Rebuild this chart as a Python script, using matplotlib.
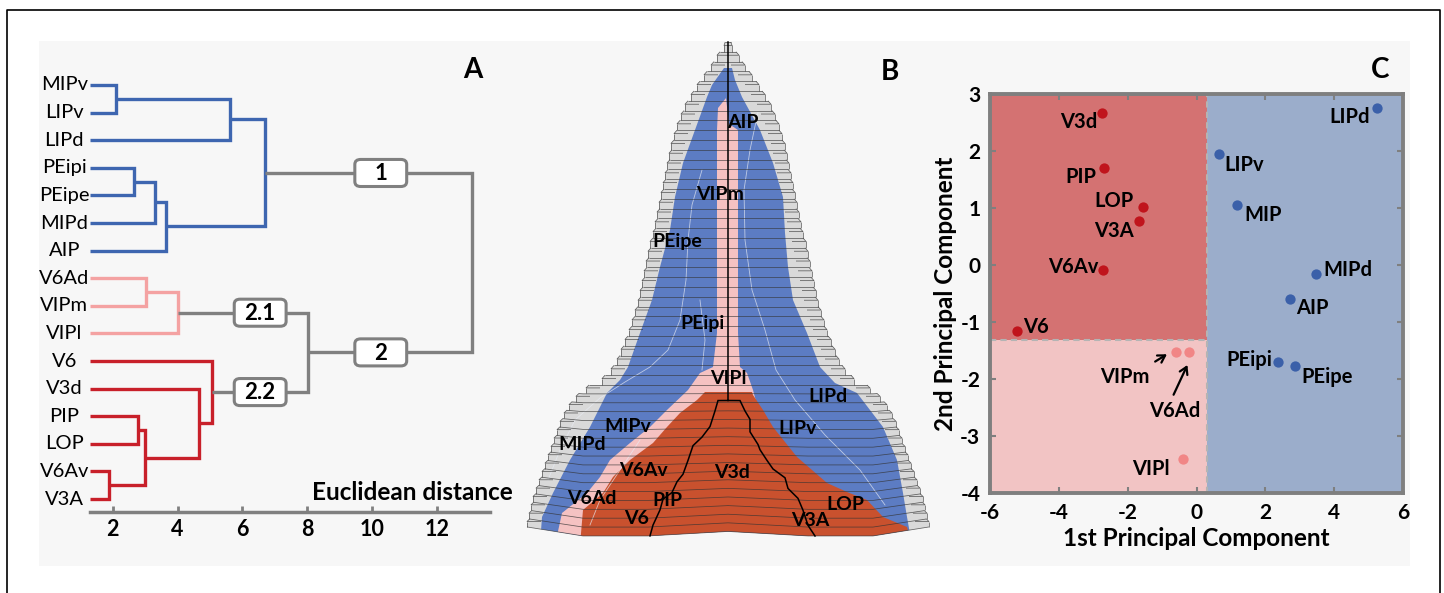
import numpy as np
import matplotlib
matplotlib.use('Agg')
import matplotlib.pyplot as plt
from matplotlib.patches import Rectangle, FancyBboxPatch, Polygon
from matplotlib.collections import LineCollection

plt.rcParams['font.family'] = ['Lato', 'DejaVu Sans']

# ---------------- Panel A : dendrogram ----------------
LEAVES = ['MIPv', 'LIPv', 'LIPd', 'PEipi', 'PEipe', 'MIPd', 'AIP',
          'V6Ad', 'VIPm', 'VIPl', 'V6', 'V3d', 'PIP', 'LOP', 'V6Av', 'V3A']
LEAF_X = 1.3
# (child a, child b, height, colour key) ; new node ids start at 16
MERGES = [(0, 1, 2.09, 'blue'), (16, 2, 5.61, 'blue'), (3, 4, 2.65, 'blue'),
          (18, 5, 3.30, 'blue'), (19, 6, 3.64, 'blue'), (17, 20, 6.69, 'blue'),
          (7, 8, 3.04, 'pink'), (22, 9, 4.00, 'pink'),
          (14, 15, 1.88, 'red'), (12, 13, 2.78, 'red'), (25, 24, 3.01, 'red'),
          (11, 26, 4.65, 'red'), (10, 27, 5.06, 'red'),
          (23, 28, 8.04, 'gray'), (21, 29, 13.08, 'gray')]
# (text, x position, node whose outgoing link carries the box)
BOXES = [('1', 10.27, 21), ('2', 10.27, 29), ('2.1', 6.55, 23), ('2.2', 6.55, 28)]
A_TICKS = [2, 4, 6, 8, 10, 12]
A_COLORS = {'blue': '#3e66b0', 'pink': '#f4a2a2', 'red': '#c8202a', 'gray': '#808080'}

# ---------------- Panel C : PCA scatter ----------------
PC_NAMES = ['V3d', 'PIP', 'LOP', 'V3A', 'V6Av', 'V6', 'VIPm', 'V6Ad', 'VIPl',
            'LIPd', 'LIPv', 'MIP', 'MIPd', 'AIP', 'PEipi', 'PEipe']
PC1 = [-2.75, -2.69, -1.54, -1.66, -2.71, -5.21, -0.59, -0.23, -0.40,
       5.24, 0.66, 1.19, 3.47, 2.72, 2.38, 2.86]
PC2 = [2.67, 1.70, 1.02, 0.77, -0.08, -1.15, -1.53, -1.53, -3.40,
       2.76, 1.94, 1.05, -0.16, -0.59, -1.71, -1.78]
PC_GROUP = ['red'] * 6 + ['pink'] * 3 + ['blue'] * 7
PC_LABEL_X = [-3.43, -3.35, -2.39, -2.39, -3.58, -4.66, -2.08, -0.64, -1.33,
              4.45, 1.39, 1.95, 4.39, 3.37, 1.53, 3.79]
PC_LABEL_Y = [2.50, 1.54, 1.13, 0.60, -0.03, -1.08, -1.97, -2.57, -3.58,
              2.59, 1.76, 0.88, -0.09, -0.75, -1.67, -1.97]
PC_SPLIT_X = 0.3
PC_SPLIT_Y = -1.32
C_XTICKS = [-6, -4, -2, 0, 2, 4, 6]
C_YTICKS = [-4, -3, -2, -1, 0, 1, 2, 3]
DOT_COLORS = {'red': '#c0141c', 'pink': '#f18686', 'blue': '#3b60a9'}

# ---------------- Panel B : flattened map (pixel-space schematic) ----------------
B_CX = 728
B_TOP = 42
B_UP_H = 9.8
B_LOW_H = 8.35
B_HW_UP = [4, 11, 17, 24, 31, 37, 43, 47, 51, 54, 57, 59, 61, 63, 65, 67, 69, 71,
           73, 75, 78, 80, 82, 84, 86, 88, 90, 93, 96, 99, 103, 107, 111, 117, 126]
B_HW_LOW = [142, 152, 159, 164, 168, 171, 174, 177, 180, 183, 186, 189, 192, 195,
            197, 199, 201]
B_BEND_START = 385      # rows below this are bent (perspective of the lower map)
B_BEND_AMP = 9          # max bend at the base, px
B_BEND_KNEE = (80, 145)  # |dx| range of maximal bend
B_BLUE = [(724, 68), (712, 85), (707, 97), (695, 130), (683, 163), (675, 197),
          (670, 230), (660, 267), (652, 300), (640, 333), (628, 367), (620, 380),
          (607, 393), (590, 427), (570, 460), (553, 493), (542, 517), (540, 545),
          (912, 545), (907, 517), (903, 493), (897, 460), (883, 427), (857, 393),
          (835, 383), (820, 367), (807, 333), (793, 300), (788, 267), (785, 233),
          (783, 197), (773, 163), (760, 130), (742, 97), (735, 80), (732, 68)]
B_PINK = [(726, 98), (718, 108), (717, 130), (717, 333), (713, 367), (700, 373),
          (688, 390), (667, 410), (650, 427), (630, 443), (610, 460), (600, 477),
          (587, 493), (562, 513), (555, 545), (700, 545), (740, 420), (757, 405),
          (753, 390), (747, 373), (740, 367), (738, 333), (738, 130), (729, 124)]
B_RED = [(705, 392), (752, 392), (753, 395), (763, 410), (773, 427), (785, 442),
         (797, 457), (812, 470), (827, 483), (847, 492), (867, 500), (883, 517),
         (907, 527), (912, 545), (580, 545), (583, 510), (603, 493), (613, 477),
         (630, 460), (653, 443), (667, 427), (680, 413), (697, 400)]
B_BLACK_LEFT = [(728, 400), (718, 400), (715, 410), (710, 425), (702, 435), (693, 443),
                (688, 457), (683, 470), (677, 477), (672, 487), (663, 493),
                (660, 503), (653, 517), (650, 527)]
B_BLACK_RIGHT = [(728, 400), (740, 400), (745, 410), (750, 418), (750, 430), (758, 442),
                 (760, 447), (767, 457), (773, 465), (785, 473), (788, 483),
                 (798, 492), (803, 503), (808, 517), (815, 527)]
B_THIN = [[(702, 170), (692, 205), (688, 240), (686, 280), (680, 320), (668, 350),
           (650, 367), (625, 382), (600, 398), (575, 420), (560, 450), (548, 480)],
          [(758, 112), (750, 150), (744, 190), (745, 240), (752, 290), (765, 330),
           (776, 370), (795, 400), (825, 435), (860, 470), (885, 505)],
          [(640, 440), (620, 470), (600, 500), (590, 525)],
          [(700, 300), (705, 340), (702, 370)]]
B_LABELS = [('AIP', 743, 122), ('VIPm', 720, 194), ('PEipe', 677, 242),
            ('PEipi', 702, 323), ('VIPl', 728, 379), ('LIPd', 828, 397),
            ('LIPv', 798, 428), ('MIPv', 628, 427), ('MIPd', 582, 444),
            ('V6Av', 643, 470), ('V3d', 732, 473), ('V6Ad', 592, 498),
            ('PIP', 667, 500), ('LOP', 845, 504), ('V6', 637, 519), ('V3A', 810, 521)]
B_COLORS = {'gray': '#d9d9d9', 'blue': '#5c7cc3', 'pink': '#f5c2c2', 'red': '#c9512e'}

W, H = 1444, 593
fig = plt.figure(figsize=(W / 100, H / 100), dpi=100)
fig.patch.set_facecolor('white')

# background canvas axes (pixel coordinates)
bg = fig.add_axes([0, 0, 1, 1])
bg.set_xlim(0, W)
bg.set_ylim(H, 0)
bg.axis('off')
bg.plot([7, 7, 1440, 1440], [H, 10, 10, H], color='black', lw=1.2, zorder=1)
bg.add_patch(Rectangle((39, 41), 1371, 525, facecolor='#f7f7f7', edgecolor='none', zorder=0))

# ---------------- Panel B drawing ----------------
rows = []
y = B_TOP
for hw in B_HW_UP:
    rows.append((y, y + B_UP_H, hw))
    y += B_UP_H
for hw in B_HW_LOW:
    rows.append((y, y + B_LOW_H, hw))
    y += B_LOW_H
B_BOTTOM = y


def bend(x, yv, hw):
    """vertical displacement giving the lower rows their bent perspective"""
    if yv <= B_BEND_START:
        return 0.0
    a = B_BEND_AMP * (yv - B_BEND_START) / (B_BOTTOM - B_BEND_START)
    dx = abs(x - B_CX)
    k0, k1 = B_BEND_KNEE
    if dx < k0:
        f = 0.5 + 0.5 * dx / k0
    elif dx <= k1:
        f = 1.0
    else:
        f = max(0.0, (hw - dx) / max(hw - k1, 1e-6))
    return a * f


def bent_line(x0, x1, yv, hw):
    k0, k1 = B_BEND_KNEE
    xs = [x0, x1] + [B_CX + s * k for s in (-1, 1) for k in (k0, k1)] + [B_CX]
    xs = sorted(x for x in set(xs) if min(x0, x1) <= x <= max(x0, x1))
    return [(x, yv + bend(x, yv, hw)) for x in xs]


left_pts, right_pts = [], []
for yt, yb, hw in rows:
    t = 0.35 * (yb - yt)
    bev = min(3.0, hw * 0.3)
    left_pts += [(B_CX - hw + bev, yt), (B_CX - hw, yt + t), (B_CX - hw, yb)]
    right_pts += [(B_CX + hw - bev, yt), (B_CX + hw, yt + t), (B_CX + hw, yb)]
last_hw = rows[-1][2]
bottom = bent_line(B_CX - last_hw, B_CX + last_hw, B_BOTTOM, last_hw)
sil = left_pts + bottom[1:-1] + right_pts[::-1]
sil_patch = Polygon(sil, closed=True, facecolor=B_COLORS['gray'], edgecolor='none', zorder=2)
bg.add_patch(sil_patch)

for poly, key in [(B_BLUE, 'blue'), (B_PINK, 'pink'), (B_RED, 'red')]:
    p = Polygon(poly, closed=True, facecolor=B_COLORS[key], edgecolor='none', zorder=3)
    bg.add_patch(p)
    p.set_clip_path(sil_patch)

for line in B_THIN:
    xs, ys = zip(*line)
    ln, = bg.plot(xs, ys, color='#e8ecf4', lw=0.6, alpha=0.7, zorder=4)
    ln.set_clip_path(sil_patch)

segs = []
for yt, yb, hw in rows:
    t = 0.35 * (yb - yt)
    bev = min(3.0, hw * 0.3)
    xl, xr = B_CX - hw, B_CX + hw
    end = min(14, hw)
    segs.append(bent_line(xl + bev, xr - bev, yt, hw))
    segs.append([(xl + end, yt + t), (xl, yt + t), (xl + bev, yt)])
    segs.append([(xr - end, yt + t), (xr, yt + t), (xr - bev, yt)])
    segs.append([(xl, yt + t), (xl, yb)])
    segs.append([(xr, yt + t), (xr, yb)])
segs.append(bottom)
bg.add_collection(LineCollection(segs, colors='#333333', linewidths=0.55, alpha=0.75, zorder=5))

bg.plot([B_CX, B_CX], [B_TOP, 400], color='black', lw=1.1, zorder=6)
for line in (B_BLACK_LEFT, B_BLACK_RIGHT):
    xs = [p[0] for p in line]
    ys = [p[1] + bend(p[0], p[1], 200) for p in line]
    bg.plot(xs, ys, color='black', lw=1.1, zorder=6, solid_joinstyle='miter')

for txt, x, yv in B_LABELS:
    bg.text(x, yv, txt, ha='center', va='center', fontsize=14, fontweight='bold',
            color='black', zorder=7)

# panel letters
for letter, x, yv in [('A', 473, 70), ('B', 890, 72), ('C', 1380, 70)]:
    bg.text(x, yv, letter, ha='center', va='center', fontsize=20, fontweight='bold', zorder=7)

# ---------------- Panel A drawing ----------------
axA = fig.add_axes([90 / W, (H - 512) / H, 400 / W, 472 / H])
axA.set_xlim(LEAF_X, 13.64)
axA.set_ylim(15.47, -1.63)
axA.patch.set_alpha(0)
for s in ['top', 'left', 'right']:
    axA.spines[s].set_visible(False)
axA.spines['bottom'].set_color('#808080')
axA.spines['bottom'].set_linewidth(2.5)
axA.set_yticks([])
axA.set_xticks(A_TICKS)
axA.set_xticklabels([str(t) for t in A_TICKS], fontsize=15.5, fontweight='bold')
axA.tick_params(axis='x', direction='in', length=4, width=2, color='#808080', pad=5)

node_x = {i: LEAF_X for i in range(len(LEAVES))}
node_y = {i: float(i) for i in range(len(LEAVES))}
for k, (a, b, h, col) in enumerate(MERGES):
    nid = len(LEAVES) + k
    xs = [node_x[a], h, h, node_x[b]]
    ys = [node_y[a], node_y[a], node_y[b], node_y[b]]
    axA.plot(xs, ys, color=A_COLORS[col], lw=2.4, solid_joinstyle='miter',
             solid_capstyle='butt', clip_on=False, zorder=3)
    node_x[nid] = h
    node_y[nid] = (node_y[a] + node_y[b]) / 2

for i, name in enumerate(LEAVES):
    axA.annotate(name, (LEAF_X, i), xytext=(-18.5, 0), textcoords='offset points',
                 ha='center', va='center', fontsize=14.5, annotation_clip=False)

bw, bh = 1.6, 0.98
for txt, x, nid in BOXES:
    yv = node_y[nid]
    axA.add_patch(FancyBboxPatch((x - bw / 2, yv - bh / 2), bw, bh,
                                 boxstyle='round,pad=0,rounding_size=0.18',
                                 facecolor='white', edgecolor='#808080', lw=2.2,
                                 zorder=5, clip_on=False))
    axA.text(x, yv + 0.03, txt, ha='center', va='center', fontsize=16,
             fontweight='bold', zorder=6)

axA.text(11.23, 14.75, 'Euclidean distance', ha='center', va='center',
         fontsize=17.5, fontweight='bold')

# ---------------- Panel C drawing ----------------
axC = fig.add_axes([990 / W, (H - 493) / H, 413 / W, 399 / H])
axC.set_xlim(-6, 6)
axC.set_ylim(-4, 3)
axC.add_patch(Rectangle((-6, PC_SPLIT_Y), PC_SPLIT_X + 6, 3 - PC_SPLIT_Y,
                        facecolor='#d47272', edgecolor='none', zorder=0))
axC.add_patch(Rectangle((-6, -4), PC_SPLIT_X + 6, PC_SPLIT_Y + 4,
                        facecolor='#f2c4c4', edgecolor='none', zorder=0))
axC.add_patch(Rectangle((PC_SPLIT_X, -4), 6 - PC_SPLIT_X, 7,
                        facecolor='#9badcb', edgecolor='none', zorder=0))
axC.plot([PC_SPLIT_X, PC_SPLIT_X], [-4, 3], ls=(0, (3, 2)), color='#b4b4b4', lw=1.5, zorder=1)
axC.plot([-6, PC_SPLIT_X], [PC_SPLIT_Y, PC_SPLIT_Y], ls=(0, (3, 2)), color='#b4b4b4', lw=1.5, zorder=1)

for name, x, yv, g, lx, ly in zip(PC_NAMES, PC1, PC2, PC_GROUP, PC_LABEL_X, PC_LABEL_Y):
    axC.scatter([x], [yv], s=55, color=DOT_COLORS[g], zorder=3, linewidths=0)
    axC.text(lx, ly, name, ha='center', va='center', fontsize=14.5, fontweight='bold',
             color='black', zorder=4)

arrow_kw = dict(arrowstyle='->,head_length=0.5,head_width=0.3', color='black', lw=1.6)
axC.annotate('', xy=(-0.79, -1.54), xytext=(-1.27, -1.72), arrowprops=arrow_kw, zorder=4)
axC.annotate('', xy=(-0.23, -1.71), xytext=(-0.70, -2.32), arrowprops=arrow_kw, zorder=4)

for s in axC.spines.values():
    s.set_color('#7f7f7f')
    s.set_linewidth(2.8)
    s.set_zorder(5)
axC.set_xticks(C_XTICKS)
axC.set_xticklabels([str(t) for t in C_XTICKS], fontsize=15, fontweight='bold')
axC.set_yticks(C_YTICKS)
axC.set_yticklabels([str(t) for t in C_YTICKS], fontsize=15, fontweight='bold')
axC.tick_params(direction='in', length=4, width=1.5, color='#7f7f7f', top=True, right=True, pad=7)
axC.set_xlabel('1st Principal Component', fontsize=17.5, fontweight='bold', labelpad=3)
axC.set_ylabel('2nd Principal Component', fontsize=17.5, fontweight='bold', labelpad=2)

fig.savefig('out.png', dpi=100)
